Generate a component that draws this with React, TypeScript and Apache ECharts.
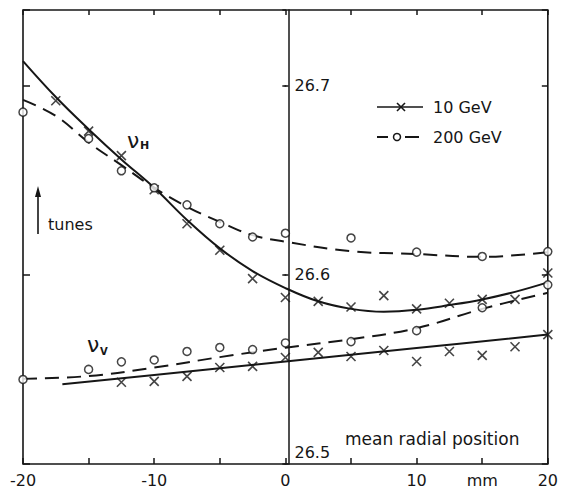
import React, { useEffect, useRef } from 'react';
import * as echarts from 'echarts';

const FONT = '"DejaVu Sans", sans-serif';
const INK = '#161616';

// ---- data (mm, tune) ----
// nu_H, 10 GeV measured points (crosses)
const hLowX = [-17.5, -15, -12.5, -10, -7.5, -5, -2.5, 0, 2.5, 5, 7.5, 10, 12.5, 15, 17.5, 20];
const hLowY = [26.692, 26.676, 26.663, 26.645, 26.627, 26.613, 26.598, 26.588, 26.586, 26.583, 26.589, 26.582, 26.585, 26.587, 26.587, 26.601];
// nu_H, 10 GeV fitted curve (solid)
const hLowCurveX = [-20, -17.5, -15, -12.5, -10, -7.5, -5, -2.5, 0, 2.5, 5, 7.5, 10, 12.5, 15, 17.5, 20];
const hLowCurveY = [26.713, 26.694, 26.677, 26.661, 26.646, 26.629, 26.614, 26.602, 26.593, 26.586, 26.582, 26.5805, 26.5815, 26.584, 26.587, 26.591, 26.596];
// nu_H, 200 GeV measured points (circles)
const hHighX = [-20, -15, -12.5, -10, -7.5, -5, -2.5, 0, 5, 10, 15, 20];
const hHighY = [26.686, 26.672, 26.655, 26.646, 26.637, 26.627, 26.62, 26.622, 26.6195, 26.612, 26.6097, 26.6123];
// nu_H, 200 GeV fitted curve (dashed)
const hHighCurveX = [-20, -17.5, -15, -12.5, -10, -7.5, -5, -2.5, 0, 5, 10, 15, 20];
const hHighCurveY = [26.6925, 26.684, 26.67, 26.658, 26.646, 26.636, 26.628, 26.621, 26.6175, 26.6125, 26.611, 26.6095, 26.612];
// nu_V, 10 GeV measured points (crosses)
const vLowX = [-12.5, -10, -7.5, -5, -2.5, 0, 2.5, 5, 7.5, 10, 12.5, 15, 17.5, 20];
const vLowY = [26.5432, 26.5437, 26.5463, 26.551, 26.5516, 26.5563, 26.559, 26.5568, 26.56, 26.5542, 26.5595, 26.5574, 26.562, 26.5684];
// nu_V, 10 GeV fitted line (solid)
const vLowCurveX = [-17, -10, 0, 10, 20];
const vLowCurveY = [26.5421, 26.5471, 26.5542, 26.5613, 26.5684];
// nu_V, 200 GeV measured points (circles)
const vHighX = [-20, -15, -12.5, -10, -7.5, -5, -2.5, 0, 5, 10, 15, 20];
const vHighY = [26.5447, 26.55, 26.554, 26.555, 26.5595, 26.5616, 26.5605, 26.564, 26.5647, 26.5705, 26.5826, 26.5947];
// nu_V, 200 GeV fitted curve (dashed)
const vHighCurveX = [-20, -15, -10, -5, 0, 5, 10, 15, 20];
const vHighCurveY = [26.545, 26.5465, 26.551, 26.5565, 26.5615, 26.566, 26.5718, 26.582, 26.5905];

const xMin = -20;
const xMax = 20;
const xStep = 5;
const yMin = 26.5;
const yMax = 26.74;
const yStep = 0.1;
const xUnitTick = 15; // where "mm" is written
const xAxisTitle = 'mean radial position';
const legendNames = ['10 GeV', '200 GeV'];

const zip = (xs: number[], ys: number[]) => xs.map((x, i) => [x, ys[i]]);

const CROSS = 'path://M0 0L10 10M10 0L0 10';

const GRID_LEFT = 23;
const GRID_RIGHT = 7;
const WIDTH = 561;
const HEIGHT = 492;

export default function App() {
  const ref = useRef<HTMLDivElement>(null);

  useEffect(() => {
    document.body.style.margin = '0';
    if (!ref.current) return;
    const chart = echarts.init(ref.current, null, { renderer: 'svg' });

    const plotW = WIDTH - GRID_LEFT - GRID_RIGHT;
    // offset that moves an edge axis onto x = 0
    const centerShift = -(plotW * (0 - xMin)) / (xMax - xMin);

    const tickStyle = { color: INK, width: 1.5 };
    const solid = { color: INK, width: 2 };
    const dashed = { color: INK, width: 2, type: [14, 8] as any };
    const crossStyle = { color: 'transparent', borderColor: INK, borderWidth: 1.6 };
    const circleStyle = { color: '#fff', borderColor: INK, borderWidth: 1.5 };

    const isMajor = (v: number) => Math.abs(v / yStep - Math.round(v / yStep)) < 1e-6;

    const baseY = {
      type: 'value' as const,
      min: yMin,
      max: yMax,
      interval: yStep,
      splitLine: { show: false },
    };

    chart.setOption({
      animation: false,
      backgroundColor: '#fff',
      grid: {
        left: GRID_LEFT,
        right: GRID_RIGHT,
        top: 10,
        bottom: 28,
        show: true,
        borderColor: INK,
        borderWidth: 1.6,
        backgroundColor: 'transparent',
      },
      xAxis: [
        {
          type: 'value',
          min: xMin,
          max: xMax,
          interval: xStep,
          position: 'bottom',
          axisLine: { show: false, onZero: false },
          axisTick: { show: true, inside: true, length: 6, lineStyle: tickStyle },
          axisLabel: {
            margin: 8,
            fontSize: 16,
            fontFamily: FONT,
            color: INK,
            formatter: (v: number) =>
              v === xUnitTick ? 'mm' : Math.round(v) % 10 === 0 ? String(Math.round(v)) : '',
          },
          splitLine: { show: false },
        },
        {
          type: 'value',
          min: xMin,
          max: xMax,
          interval: xStep,
          position: 'top',
          axisLine: { show: false, onZero: false },
          axisTick: { show: true, inside: true, length: 5, lineStyle: tickStyle },
          axisLabel: { show: false },
          splitLine: { show: false },
        },
      ],
      yAxis: [
        {
          ...baseY,
          position: 'left',
          offset: centerShift,
          axisLine: { show: true, onZero: false, lineStyle: { color: INK, width: 1.5 } },
          axisTick: { show: true, inside: false, length: 4, lineStyle: tickStyle },
          axisLabel: {
            inside: true,
            margin: 6,
            fontSize: 16,
            fontFamily: FONT,
            color: INK,
            showMaxLabel: false,
            formatter: (v: number) =>
              !isMajor(v) ? '' : v < yMin + yStep / 2 ? `{low|${v.toFixed(1)}}` : v.toFixed(1),
            rich: {
              low: {
                fontSize: 16,
                fontFamily: FONT,
                color: INK,
                lineHeight: 40,
                verticalAlign: 'top',
              },
            },
          },
        },
        {
          ...baseY,
          position: 'right',
          offset: -(plotW + centerShift),
          axisLine: { show: false, onZero: false },
          axisTick: { show: true, inside: false, length: 4, lineStyle: tickStyle },
          axisLabel: { show: false },
        },
        {
          ...baseY,
          position: 'right',
          axisLine: { show: false, onZero: false },
          axisTick: { show: true, inside: true, length: 6, lineStyle: tickStyle },
          axisLabel: { show: false },
        },
        {
          ...baseY,
          position: 'left',
          axisLine: { show: false, onZero: false },
          axisTick: { show: true, inside: true, length: 7, lineStyle: tickStyle },
          axisLabel: { show: false },
        },
      ],
      series: [
        { type: 'line', data: zip(hLowCurveX, hLowCurveY), smooth: 0.4, symbol: 'none', lineStyle: solid, z: 2 },
        { type: 'line', data: zip(hHighCurveX, hHighCurveY), smooth: 0.4, symbol: 'none', lineStyle: dashed, z: 2 },
        { type: 'line', data: zip(vLowCurveX, vLowCurveY), smooth: 0.4, symbol: 'none', lineStyle: solid, z: 2 },
        { type: 'line', data: zip(vHighCurveX, vHighCurveY), smooth: 0.4, symbol: 'none', lineStyle: dashed, z: 2 },
        { type: 'scatter', data: zip(hLowX, hLowY), symbol: CROSS, symbolSize: 9, itemStyle: crossStyle, z: 3 },
        { type: 'scatter', data: zip(vLowX, vLowY), symbol: CROSS, symbolSize: 9, itemStyle: crossStyle, z: 3 },
        { type: 'scatter', data: zip(hHighX, hHighY), symbol: 'circle', symbolSize: 8, itemStyle: circleStyle, z: 4 },
        { type: 'scatter', data: zip(vHighX, vHighY), symbol: 'circle', symbolSize: 8, itemStyle: circleStyle, z: 4 },
      ],
      graphic: [
        // legend
        { type: 'line', shape: { x1: 377, y1: 107, x2: 423, y2: 107 }, style: { stroke: INK, lineWidth: 1.6 } },
        { type: 'line', shape: { x1: 397, y1: 103, x2: 405, y2: 111 }, style: { stroke: INK, lineWidth: 1.6 } },
        { type: 'line', shape: { x1: 397, y1: 111, x2: 405, y2: 103 }, style: { stroke: INK, lineWidth: 1.6 } },
        { type: 'text', x: 433, y: 107, style: { text: legendNames[0], font: `16px ${FONT}`, fill: INK, align: 'left', verticalAlign: 'middle' } },
        { type: 'line', shape: { x1: 377, y1: 137, x2: 388, y2: 137 }, style: { stroke: INK, lineWidth: 2 } },
        { type: 'circle', shape: { cx: 397, cy: 137, r: 3.5 }, style: { stroke: INK, fill: '#fff', lineWidth: 1.5 } },
        { type: 'line', shape: { x1: 405, y1: 137, x2: 419, y2: 137 }, style: { stroke: INK, lineWidth: 2 } },
        { type: 'text', x: 433, y: 137, style: { text: legendNames[1], font: `16px ${FONT}`, fill: INK, align: 'left', verticalAlign: 'middle' } },
        // curve labels
        { type: 'text', x: 127, y: 140, style: { text: 'ν', font: `22px ${FONT}`, fill: INK, align: 'left', verticalAlign: 'middle' } },
        { type: 'text', x: 140, y: 145, style: { text: 'H', font: `bold 11px ${FONT}`, fill: INK, align: 'left', verticalAlign: 'middle' } },
        { type: 'text', x: 87, y: 344, style: { text: 'ν', font: `22px ${FONT}`, fill: INK, align: 'left', verticalAlign: 'middle' } },
        { type: 'text', x: 100, y: 351, style: { text: 'V', font: `bold 10px ${FONT}`, fill: INK, align: 'left', verticalAlign: 'middle' } },
        // "tunes" with arrow
        { type: 'line', shape: { x1: 38, y1: 234, x2: 38, y2: 192 }, style: { stroke: INK, lineWidth: 1.6 } },
        { type: 'polygon', shape: { points: [[35, 197], [38, 186], [41, 197]] }, style: { fill: INK } },
        { type: 'text', x: 48, y: 224, style: { text: 'tunes', font: `16px ${FONT}`, fill: INK, align: 'left', verticalAlign: 'middle' } },
        // axis title
        { type: 'text', x: 345, y: 439, style: { text: xAxisTitle, font: `17px ${FONT}`, fill: INK, align: 'left', verticalAlign: 'middle' } },
      ],
    });

    return () => chart.dispose();
  }, []);

  return <div ref={ref} style={{ width: WIDTH, height: HEIGHT }} />;
}
